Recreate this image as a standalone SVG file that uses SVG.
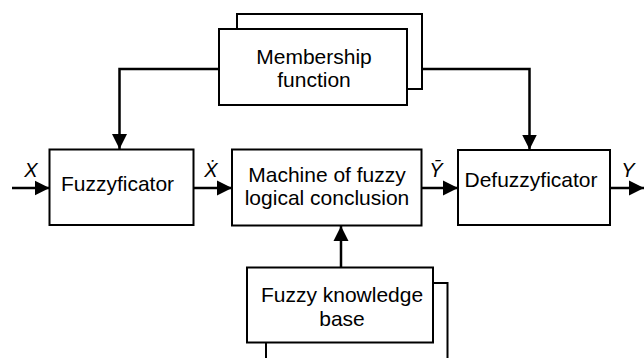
<svg xmlns="http://www.w3.org/2000/svg" width="644" height="358" viewBox="0 0 644 358">
<style>
.box{fill:#fff;stroke:#000;stroke-width:2}
.t{font-family:"Liberation Sans",Arial,sans-serif;font-size:21px;fill:#000;text-anchor:middle}
.lbl{font-family:"Liberation Sans",Arial,sans-serif;font-size:20px;font-style:italic;fill:#000;text-anchor:middle}
.c{fill:none;stroke:#000;stroke-width:2.5}
</style>
<defs>
<marker id="ah" markerUnits="userSpaceOnUse" markerWidth="16" markerHeight="16" viewBox="0 0 16 16" refX="15" refY="8" orient="auto">
<path d="M0,0.5 L15,8 L0,15.5 Z" fill="#000"/>
</marker>
</defs>
<rect width="644" height="358" fill="#fff"/>
<g id="membership">
<rect class="box" x="237" y="14" width="185" height="75"/>
<rect class="box" x="219" y="29" width="188" height="76"/>
<text class="t" x="314" y="64">Membership</text>
<text class="t" x="314" y="87">function</text>
</g>
<g id="fuzzyficator">
<rect class="box" x="49.5" y="149.5" width="144" height="75.5"/>
<text class="t" x="117.5" y="190.5">Fuzzyficator</text>
</g>
<g id="machine">
<rect class="box" x="232" y="149.5" width="189.5" height="76"/>
<text class="t" x="327" y="182">Machine of fuzzy</text>
<text class="t" x="327" y="205">logical conclusion</text>
</g>
<g id="defuzzyficator">
<rect class="box" x="458" y="150" width="152" height="75"/>
<text class="t" x="531" y="187">Defuzzyficator</text>
</g>
<g id="knowledge">
<rect class="box" x="266" y="283" width="181.5" height="80"/>
<rect class="box" x="247" y="267.5" width="186" height="75"/>
<text class="t" x="342" y="301.5">Fuzzy knowledge</text>
<text class="t" x="342" y="326">base</text>
</g>
<g id="connectors">
<polyline class="c" points="219,69 119.5,69 119.5,149" marker-end="url(#ah)"/>
<polyline class="c" points="422,69 529.5,69 529.5,149.5" marker-end="url(#ah)"/>
<line class="c" x1="12" y1="188" x2="49.5" y2="188" marker-end="url(#ah)"/>
<line class="c" x1="193.5" y1="188" x2="232" y2="188" marker-end="url(#ah)"/>
<line class="c" x1="421.5" y1="188" x2="458" y2="188" marker-end="url(#ah)"/>
<line class="c" x1="610" y1="188" x2="644" y2="188" marker-end="url(#ah)"/>
<line class="c" x1="341" y1="267" x2="341" y2="226" marker-end="url(#ah)"/>
<text class="lbl" x="31" y="177">X</text>
<text class="lbl" x="211" y="177">Ẋ</text>
<text class="lbl" x="436" y="177">Ȳ</text>
<text class="lbl" x="628" y="177">Y</text>
</g>
</svg>
